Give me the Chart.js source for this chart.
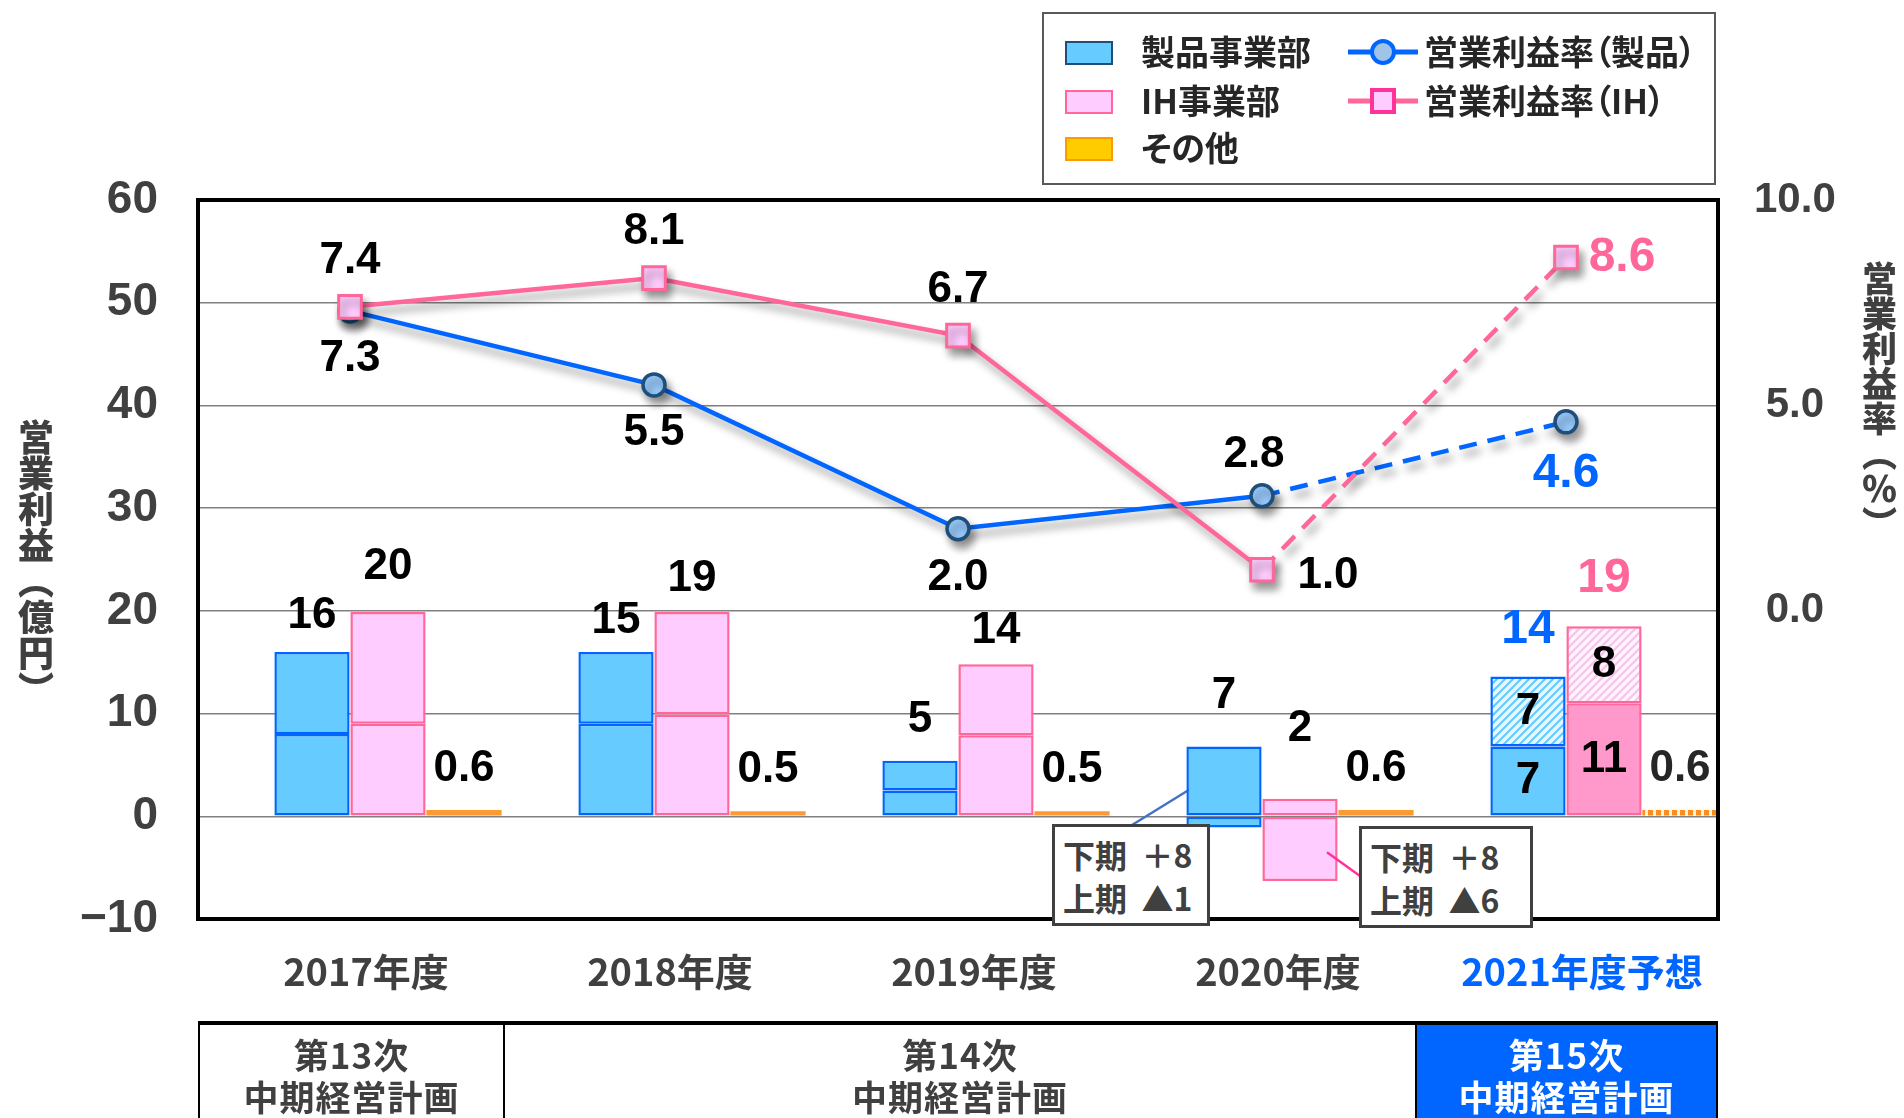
<!DOCTYPE html>
<html lang="ja">
<head>
<meta charset="utf-8">
<title>営業利益</title>
<script src="https://cdn.jsdelivr.net/npm/chart.js@4.4.1/dist/chart.umd.min.js"></script>
<style>
  body { margin: 0; background: #fff; width: 1904px; height: 1118px; overflow: hidden; position: relative;
         font-family: "Noto Sans CJK JP", sans-serif; font-weight: bold; color: #404040; }
  #chart { position: absolute; left: 0; top: 0; }
  .abs { position: absolute; }
  #legend { left: 1042px; top: 12px; width: 670px; height: 169px; border: 2px solid #595959; }
  .sw { position: absolute; width: 44px; height: 20px; }
  .lt { position: absolute; font-size: 34px; line-height: 40px; color: #262626; font-feature-settings: "palt"; white-space: nowrap; }
  .vt { writing-mode: vertical-rl; font-weight: 900; color: #404040; white-space: nowrap; line-height: 1; }
  .callout { position: absolute; background: #fff; border: 3px solid #404040; font-size: 32px; line-height: 43px;
             color: #404040; padding: 6px 0 0 8px; box-sizing: border-box; white-space: pre; }
  #plan { left: 198px; top: 1021px; width: 1520px; height: 120px; border-top: 4px solid #000; display: flex; }
  .cell { box-sizing: border-box; border-left: 2px solid #000; text-align: center; font-size: 35px; line-height: 42px;
          padding-top: 8px; letter-spacing: 1px; }
</style>
</head>
<body>
<canvas id="chart" width="1904" height="1118"></canvas>

<div id="legend" class="abs"></div>
<div class="sw" style="left:1065px;top:41px;background:#66CCFF;border:2px solid #1F4E79;"></div>
<div class="lt" style="left:1141px;top:31px;">製品事業部</div>
<div class="sw" style="left:1065px;top:90px;background:#FFCCFF;border:2px solid #FF6699;"></div>
<div class="lt" style="left:1141px;top:80px;">IH事業部</div>
<div class="sw" style="left:1065px;top:137px;background:#FFCC00;border:2px solid #FF9900;"></div>
<div class="lt" style="left:1141px;top:127px;">その他</div>
<svg class="abs" style="left:1348px;top:37px;" width="70" height="30">
  <line x1="0" y1="15" x2="70" y2="15" stroke="#0066FF" stroke-width="5"/>
  <circle cx="35" cy="15" r="11" fill="#A0C4E8" stroke="#0066FF" stroke-width="4"/>
</svg>
<div class="lt" style="left:1424px;top:31px;">営業利益率（製品）</div>
<svg class="abs" style="left:1348px;top:86px;" width="70" height="30">
  <line x1="0" y1="15" x2="70" y2="15" stroke="#FF6699" stroke-width="5"/>
  <rect x="24" y="4" width="22" height="22" fill="#FFCCFF" stroke="#FF3399" stroke-width="4"/>
</svg>
<div class="lt" style="left:1424px;top:80px;">営業利益率（IH）</div>

<div class="abs vt" style="left:18px;top:419px;font-size:36px;">営業利益（億円）</div>
<div class="abs vt" style="left:1862px;top:261px;font-size:35px;">営業利益率（％）</div>

<div class="callout" style="left:1052px;top:824px;width:158px;height:102px;">下期  ＋8
上期  ▲1</div>
<div class="callout" style="left:1359px;top:826px;width:174px;height:102px;">下期  ＋8
上期  ▲6</div>

<div id="plan" class="abs">
  <div class="cell" style="width:305px;">第13次<br>中期経営計画</div>
  <div class="cell" style="width:912px;">第14次<br>中期経営計画</div>
  <div class="cell" style="width:303px;background:#0066FF;color:#fff;border-right:2px solid #000;">第15次<br>中期経営計画</div>
</div>

<script>
// ---- data (億円 / %) ----
const years = ['2017年度', '2018年度', '2019年度', '2020年度', '2021年度予想'];
const productLower = [8.0, 9.0, 2.5, -1.1, 6.8];   // 上期 (2021: 確定分)
const productUpper = [8.0, 7.0, 2.9, 6.8, 6.8];    // 下期 (2021: 予想分)
const ihLower = [9.0, 9.9, 7.9, -6.3, 11.0];
const ihUpper = [10.9, 10.0, 6.9, 1.7, 7.5];
const otherValues = [0.6, 0.5, 0.5, 0.6, 0.6];
const productRate = [7.3, 5.5, 2.0, 2.8, 4.6];
const ihRate = [7.4, 8.1, 6.7, 1.0, 8.6];
const productTotals = ['16', '15', '5', '7', '14'];
const ihTotals = ['20', '19', '14', '2', '19'];
const productForecastParts = ['7', '7'];
const ihForecastParts = ['11', '8'];
const rateTicks = [0, 5, 10];

const NUM_FONT = '"Liberation Sans", Arial, sans-serif';
const JP_FONT = '"Noto Sans CJK JP", sans-serif';
const BLUE = '#0066FF';
const PINK = '#FF6699';
const FORECAST = 4;

// hatched / dotted fills for the forecast year
function makePattern(bg, fg, kind) {
  const c = document.createElement('canvas');
  c.width = 8; c.height = 8;
  const g = c.getContext('2d');
  g.fillStyle = bg;
  g.fillRect(0, 0, 8, 8);
  if (kind === 'dots') {
    g.fillStyle = fg;
    g.fillRect(0, 0, 5, 8);
  } else {
    g.strokeStyle = fg;
    g.lineWidth = 2.2;
    g.beginPath();
    g.moveTo(-1, 9); g.lineTo(9, -1);
    g.moveTo(-1, 1); g.lineTo(1, -1);
    g.moveTo(7, 9); g.lineTo(9, 7);
    g.stroke();
  }
  return g.createPattern(c, 'repeat');
}
const blueHatch = makePattern('#E8F7FF', '#66CCFF');
const pinkHatch = makePattern('#FFF4FC', '#F4C4EA');
const otherDots = makePattern('#FFF2CC', '#FF8C1A', 'dots');

const byYear = (normal, forecast) => (ctx) => ctx.dataIndex === FORECAST ? forecast : normal;

// line labels: offsets relative to the point (style only)
const productRateOffset = [[0, 48], [0, 48], [0, 49], [-8, -41], [0, 52]];
const ihRateOffset = [[0, -46], [0, -46], [0, -46], [66, 6], [56, 0]];
// bar total labels: lift above the stack top (style only)
const productLift = [36, 31, 41, 51, 47];
const ihLift = [45, 33, 33, 70, 47];
const otherLift = 41;

const shadowPlugin = {
  id: 'lineShadow',
  beforeDatasetDraw(chart, args) {
    if (args.meta.type !== 'line') return;
    const ctx = chart.ctx;
    ctx.save();
    ctx.shadowColor = 'rgba(0,0,0,0.4)';
    ctx.shadowBlur = 8;
    ctx.shadowOffsetX = 4;
    ctx.shadowOffsetY = 7;
  },
  afterDatasetDraw(chart, args) {
    if (args.meta.type === 'line') chart.ctx.restore();
  }
};

const decorPlugin = {
  id: 'decor',
  beforeDatasetsDraw(chart) {
    // callout leader for 製品 2020
    const ctx = chart.ctx;
    const y = chart.scales.y;
    const pBar = chart.getDatasetMeta(2).data[3];
    ctx.save();
    ctx.lineWidth = 2.5;
    ctx.strokeStyle = '#4472C4';
    ctx.beginPath(); ctx.moveTo(1132, 825); ctx.lineTo(pBar.x - 13, y.getPixelForValue(3.9)); ctx.stroke();
    ctx.restore();
  },
  afterDatasetsDraw(chart) {
    const ctx = chart.ctx;
    const a = chart.chartArea;
    const y = chart.scales.y;
    const iBar = chart.getDatasetMeta(4).data[3];
    ctx.save();
    ctx.lineWidth = 2.5;
    ctx.strokeStyle = '#FF3399';
    ctx.beginPath(); ctx.moveTo(iBar.x + 27, y.getPixelForValue(-3.5)); ctx.lineTo(1360, 876); ctx.stroke();

    // plot frame
    ctx.lineWidth = 4;
    ctx.strokeStyle = '#000';
    ctx.strokeRect(a.left, a.top, a.right - a.left, a.bottom - a.top);

    ctx.textAlign = 'center';
    ctx.textBaseline = 'middle';
    const text = (s, x, yy, color, size) => {
      ctx.fillStyle = color || '#000';
      ctx.font = 'bold ' + (size || 44) + 'px ' + NUM_FONT;
      ctx.fillText(s, x, yy);
    };

    const pUp = chart.getDatasetMeta(2).data;
    const pLo = chart.getDatasetMeta(1).data;
    const iUp = chart.getDatasetMeta(4).data;
    const iLo = chart.getDatasetMeta(3).data;
    const oth = chart.getDatasetMeta(5).data;
    years.forEach((_, i) => {
      const last = i === FORECAST;
      text(productTotals[i], pUp[i].x, pUp[i].y - productLift[i], last ? BLUE : '#000', last ? 48 : 44);
      text(ihTotals[i], iUp[i].x, iUp[i].y - ihLift[i], last ? PINK : '#000', last ? 48 : 44);
      text(otherValues[i].toFixed(1), oth[i].x, oth[i].y - otherLift, last ? '#262626' : '#000', 44);
    });
    const mid = (el) => (el.y + el.base) / 2;
    text(productForecastParts[0], pLo[FORECAST].x, mid(pLo[FORECAST]));
    text(productForecastParts[1], pUp[FORECAST].x, mid(pUp[FORECAST]));
    text(ihForecastParts[0], iLo[FORECAST].x, mid(iLo[FORECAST]));
    text(ihForecastParts[1], iUp[FORECAST].x, mid(iUp[FORECAST]));

    // rate labels
    const pPts = chart.getDatasetMeta(7).data;
    const iPts = chart.getDatasetMeta(6).data;
    productRate.forEach((v, i) => {
      const o = productRateOffset[i];
      const last = i === FORECAST;
      text(v.toFixed(1), pPts[i].x + o[0], pPts[i].y + o[1], last ? BLUE : '#000', last ? 48 : 44);
    });
    ihRate.forEach((v, i) => {
      const o = ihRateOffset[i];
      const last = i === FORECAST;
      text(v.toFixed(1), iPts[i].x + o[0], iPts[i].y + o[1], last ? PINK : '#000', last ? 48 : 44);
    });
    ctx.restore();
  }
};

const barBase = { type: 'bar', order: 2, borderSkipped: false, barPercentage: 0.99, categoryPercentage: 1.0 };

new Chart(document.getElementById('chart'), {
  data: {
    labels: years,
    datasets: [
      { ...barBase, label: '', stack: 'pad', data: years.map(() => null) },
      { ...barBase, label: '製品事業部', stack: 'product', data: productLower,
        backgroundColor: '#66CCFF', borderColor: BLUE, borderWidth: 2.5 },
      { ...barBase, label: '製品事業部', stack: 'product', data: productUpper,
        backgroundColor: byYear('#66CCFF', blueHatch), borderColor: BLUE, borderWidth: 2.5 },
      { ...barBase, label: 'IH事業部', stack: 'ih', data: ihLower,
        backgroundColor: byYear('#FFCCFF', '#FF99CC'), borderColor: PINK, borderWidth: 2.5 },
      { ...barBase, label: 'IH事業部', stack: 'ih', data: ihUpper,
        backgroundColor: byYear('#FFCCFF', pinkHatch), borderColor: PINK, borderWidth: 2.5 },
      { ...barBase, label: 'その他', stack: 'other', data: otherValues,
        backgroundColor: byYear('#FF9933', otherDots), borderWidth: 0 },
      { type: 'line', label: '営業利益率（IH）', order: 0, yAxisID: 'y1', data: ihRate,
        borderColor: PINK, borderWidth: 4.5, pointStyle: 'rect', pointRadius: 16,
        pointBackgroundColor: '#FFCCFF', pointBorderColor: PINK, pointBorderWidth: 3,
        segment: { borderDash: (c) => c.p1DataIndex === FORECAST ? [18, 11] : undefined } },
      { type: 'line', label: '営業利益率（製品）', order: 1, yAxisID: 'y1', data: productRate,
        borderColor: BLUE, borderWidth: 4.5, pointStyle: 'circle', pointRadius: 11,
        pointBackgroundColor: '#99CCFF', pointBorderColor: '#1F4E79', pointBorderWidth: 3.5,
        segment: { borderDash: (c) => c.p1DataIndex === FORECAST ? [18, 11] : undefined } }
    ]
  },
  options: {
    responsive: false,
    animation: false,
    layout: { padding: { top: 200, left: 0, right: 0, bottom: 0 } },
    plugins: { legend: { display: false }, tooltip: { enabled: false } },
    scales: {
      x: {
        stacked: true,
        grid: { display: false, drawTicks: false },
        border: { display: false },
        ticks: {
          autoSkip: false, maxRotation: 0, padding: 30, labelOffset: 16,
          font: { family: JP_FONT, size: 38, weight: 'bold' },
          color: (c) => c.index === FORECAST ? BLUE : '#404040'
        },
        afterFit: (s) => { s.height = 199; }
      },
      y: {
        stacked: true, min: -10, max: 60,
        grid: { drawTicks: false, lineWidth: 1.5,
                color: (c) => (c.tick.value === 60 || c.tick.value === -10) ? 'rgba(0,0,0,0)' : '#808080' },
        border: { display: false },
        ticks: {
          stepSize: 10, padding: 40, color: '#404040',
          font: { family: NUM_FONT, size: 46, weight: 'bold' },
          callback: (v) => v < 0 ? '\u2212' + Math.abs(v) : String(v)
        },
        afterFit: (s) => { s.width = 198; }
      },
      y1: {
        position: 'right', min: -7.5, max: 10,
        grid: { display: false, drawTicks: false },
        border: { display: false },
        afterBuildTicks: (s) => { s.ticks = rateTicks.map((v) => ({ value: v })); },
        ticks: {
          padding: 36, crossAlign: 'center', color: '#404040',
          font: { family: NUM_FONT, size: 42, weight: 'bold' },
          callback: (v) => Number(v).toFixed(1)
        },
        afterFit: (s) => { s.width = 186; }
      }
    }
  },
  plugins: [shadowPlugin, decorPlugin]
});
</script>
</body>
</html>
